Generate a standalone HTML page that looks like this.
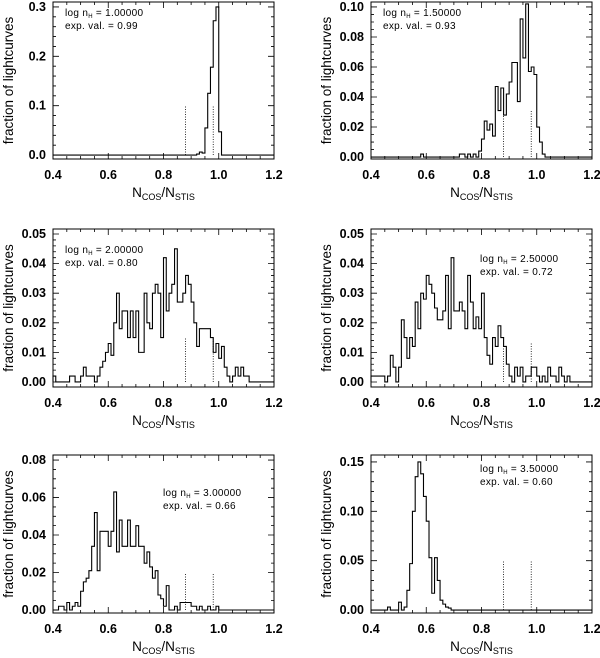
<!DOCTYPE html>
<html><head><meta charset="utf-8"><style>
html,body{margin:0;padding:0;background:#fff;width:600px;height:658px;overflow:hidden}
svg{display:block}
text{font-family:"Liberation Sans",sans-serif;fill:#000}
</style></head><body>
<svg id="fig" width="600" height="658" viewBox="0 0 600 658" xmlns="http://www.w3.org/2000/svg"></svg>
<script>
// ---- data (bin width 0.01, starting bin edge per panel) ----
const binStart1 = 0.92;
const values1 = [0.002,0.006,0.004,0.055,0.125,0.178,0.272,0.300,0.047];
const binStart2 = 0.58;
const values2 = [0.002,0,0,0,0,0,0,0,0,0,0,0,0,0,0.002,0.002,0,0.002,0,0.002,0,0.004,0.012,0.024,0.018,0.022,0.014,0.047,0.031,0.046,0.028,0.042,0.050,0.063,0.063,0.037,0.092,0.066,0.102,0.057,0.060,0.055,0.020,0.010,0.002];
const binStart3 = 0.40;
const values3 = [0.002,0,0,0,0,0,0.002,0.002,0,0,0.002,0.005,0.002,0.002,0.002,0,0.002,0.005,0.007,0.010,0.013,0.009,0.020,0.030,0.018,0.024,0.024,0.015,0.024,0.015,0.024,0.010,0.010,0.030,0.020,0.018,0.030,0.033,0.030,0.015,0.042,0.024,0.030,0.033,0.045,0.027,0.027,0.030,0.036,0.033,0.027,0.020,0.012,0.018,0.018,0.018,0.018,0.015,0.010,0.013,0.008,0.012,0.005,0.002,0,0.002,0.005,0.002,0.005,0.002,0.002];
const binStart4 = 0.40;
const values4 = [0.002,0.002,0.002,0.002,0.002,0,0.002,0.009,0.005,0,0.005,0.021,0.015,0.008,0.015,0.012,0.027,0.018,0.030,0.028,0.036,0.033,0.030,0.025,0.021,0.021,0.024,0.036,0.018,0.042,0.024,0.024,0.027,0.024,0.018,0.036,0.027,0.018,0.022,0.018,0.030,0.015,0.009,0.006,0.015,0.012,0.019,0.015,0.012,0.006,0.002,0,0.005,0.002,0.005,0,0.002,0.002,0.005,0.005,0.002,0,0.002,0,0.005,0.002,0.002,0,0.005,0.002,0,0.002];
const binStart5 = 0.42;
const values5 = [0.002,0.002,0,0.004,0,0.002,0.004,0.002,0.010,0.015,0.017,0.021,0.034,0.052,0.021,0.042,0.042,0.042,0.034,0.042,0.063,0.031,0.048,0.034,0.034,0.048,0.034,0.034,0.045,0.034,0.034,0.025,0.031,0.023,0.017,0.021,0.008,0.006,0.002,0.013,0,0,0.002,0,0.004,0.004,0.004,0.004,0.002,0.002,0,0.002,0,0,0.002,0,0,0.002];
const binStart6 = 0.46;
const values6 = [0.003,0,0,0,0.008,0,0.003,0.020,0.047,0.100,0.135,0.150,0.138,0.115,0.090,0.053,0.017,0.053,0.030,0.010,0.006,0.003,0.002];
const yTicks1 = ["0.0","0.1","0.2","0.3"];
const yTicks2 = ["0.00","0.02","0.04","0.06","0.08","0.10"];
const yTicks35 = ["0.00","0.01","0.02","0.03","0.04","0.05"];
const yTicks5 = ["0.00","0.02","0.04","0.06","0.08"];
const yTicks6 = ["0.00","0.05","0.10","0.15"];
const xTicks = ["0.4","0.6","0.8","1.0","1.2"];
const logN = ["1.00000","1.50000","2.00000","2.50000","3.00000","3.50000"];
const expVal = ["0.99","0.93","0.80","0.72","0.66","0.60"];
const refLines = [0.88, 0.98];
const refHeights = [0.1, 0.031, 0.015, 0.0135, 0.02, 0.05];

const NS = "http://www.w3.org/2000/svg";
const svg = document.getElementById('fig');
function mk(tag, attrs, parent){const e=document.createElementNS(NS,tag);for(const k in attrs)e.setAttribute(k,attrs[k]);(parent||svg).appendChild(e);return e;}

const panels = [
 {L:53,R:274,T:2,B:159,ymin:-0.008,ymax:0.31,step:0.1,minor:0.02,ticks:yTicks1,vals:values1,start:binStart1,tx:65,ty:16},
 {L:371,R:592,T:2,B:159,ymin:-0.0013,ymax:0.1033,step:0.02,minor:0.005,ticks:yTicks2,vals:values2,start:binStart2,tx:383,ty:16},
 {L:53,R:274,T:229,B:387,ymin:-0.0017,ymax:0.0517,step:0.01,minor:0.002,ticks:yTicks35,vals:values3,start:binStart3,tx:65,ty:253},
 {L:371,R:592,T:229,B:387,ymin:-0.0017,ymax:0.0517,step:0.01,minor:0.002,ticks:yTicks35,vals:values4,start:binStart4,tx:480,ty:262},
 {L:53,R:274,T:455,B:613,ymin:-0.0016,ymax:0.0827,step:0.02,minor:0.005,ticks:yTicks5,vals:values5,start:binStart5,tx:163,ty:496},
 {L:371,R:592,T:455,B:613,ymin:-0.003,ymax:0.157,step:0.05,minor:0.01,ticks:yTicks6,vals:values6,start:binStart6,tx:480,ty:472}
];

panels.forEach((p,i)=>{
  const g = mk('g',{});
  
  
  const xs = v => p.L + (v-0.4)/(1.2-0.4)*(p.R-p.L);
  const ys = v => p.B - (v-p.ymin)/(p.ymax-p.ymin)*(p.B-p.T);
  const fr = mk('rect',{x:p.L,y:p.T,width:p.R-p.L,height:p.B-p.T,fill:'none',stroke:'#000','stroke-width':1},g);
  
  
  let d='';
  for(let k=0;k<=16;k++){const v=0.4+k*0.05;const x=xs(v);const len=(k%4===0)?6:3;
    d+=`M${x},${p.B}v${-len}M${x},${p.T}v${len}`;}
  const nMin=Math.round((p.ymax)/p.minor);
  for(let k=0;k<=nMin;k++){const v=k*p.minor;const y=ys(v);if(y<p.T)continue;
    const major=Math.abs(v/p.step-Math.round(v/p.step))<1e-6;const len=major?6:3;
    d+=`M${p.L},${y}h${len}M${p.R},${y}h${-len}`;}
  mk('path',{d:d,stroke:'#000','stroke-width':0.8,fill:'none'},g);
  xTicks.forEach((t,k)=>{const tt=mk('text',{x:xs(parseFloat(t)),y:p.B+20,'font-size':12.5,'font-weight':'bold','text-anchor':'middle'},g);tt.textContent=t;
    
    });
  p.ticks.forEach(t=>{const tt=mk('text',{x:p.L-7,y:ys(parseFloat(t))+4,'font-size':12.5,'font-weight':'bold','text-anchor':'end'},g);tt.textContent=t;
    
    });
  const xt=mk('text',{x:(p.L+p.R)/2,y:p.B+38,'font-size':13.5,'text-anchor':'middle'},g);
  xt.innerHTML='N<tspan font-size="9" dy="3">COS</tspan><tspan dy="-3">/N</tspan><tspan font-size="9" dy="3">STIS</tspan>';
  
  
  const cy=(p.T+p.B)/2;const cx=p.L-40;
  const yt=mk('text',{x:cx,y:cy,'font-size':13.5,'text-anchor':'middle',transform:`rotate(-90 ${cx} ${cy})`},g);
  yt.textContent='fraction of lightcurves';
  
  
  refLines.forEach(v=>{const l=mk('line',{x1:xs(v),x2:xs(v),y1:ys(0),y2:ys(refHeights[i]),stroke:'#000','stroke-width':0.8,'stroke-dasharray':'1,1.5'},g);
    
    });
  let hd=`M${p.L},${ys(0)}H${xs(p.start)}`;
  p.vals.forEach((v,k)=>{const x1=xs(p.start+(k+1)*0.01);hd+=`V${ys(v)}H${x1}`;});
  hd+=`V${ys(0)}H${p.R}`;
  const h=mk('path',{d:hd,fill:'none',stroke:'#000','stroke-width':1.1},g);
  
  
  const a1=mk('text',{x:p.tx,y:p.ty,'font-size':10,'letter-spacing':0.3},g);
  a1.innerHTML='log n<tspan font-size="6" dy="2">H</tspan><tspan dy="-2"> = '+logN[i]+'</tspan>';
  
  
  const a2=mk('text',{x:p.tx,y:p.ty+13,'font-size':10,'letter-spacing':0.3},g);
  a2.textContent='exp. val. = '+expVal[i];
  
  
});
</script>
</body></html>
